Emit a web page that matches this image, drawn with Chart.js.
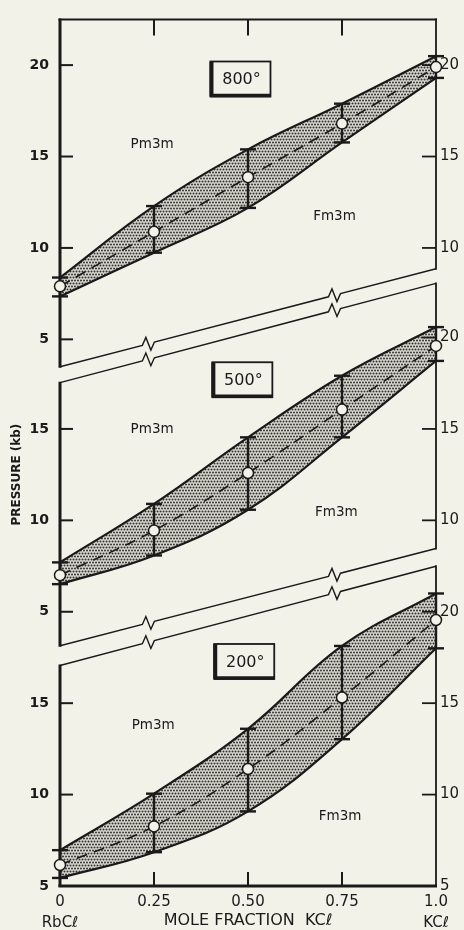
<!DOCTYPE html>
<html>
<head>
<meta charset="utf-8">
<script src="https://cdn.jsdelivr.net/npm/chart.js@4.4.1/dist/chart.umd.min.js"></script>
<style>
  html, body { margin: 0; padding: 0; background: #f3f2e8; }
  canvas { display: block; }
</style>
</head>
<body>
<canvas id="phaseChart" width="464" height="930"></canvas>
<script>
// mole fraction KCl and x tick labels
const xs = [0, 0.25, 0.5, 0.75, 1];
const xTickLabels = ['0', '0.25', '0.50', '0.75', '1.0'];

// 800 deg: transition pressure (kb), mean and error limits
const mid800 = [7.9, 10.88, 13.87, 16.8, 19.89];
const hi800 = [8.38, 12.29, 15.39, 17.89, 20.49];
const lo800 = [7.35, 9.74, 12.19, 15.77, 19.3];

// 500 deg
const mid500 = [7.0, 9.44, 12.59, 16.06, 19.54];
const hi500 = [7.7, 10.9, 14.54, 17.91, 20.57];
const lo500 = [6.51, 8.08, 10.58, 14.54, 18.72];

// 200 deg
const mid200 = [6.15, 8.26, 11.4, 15.31, 19.55];
const hi200 = [6.96, 10.05, 13.6, 18.13, 21.0];
const lo200 = [5.44, 6.85, 9.08, 13.03, 18.0];

// tick labels on the pressure axes
const leftTicks800 = [5, 10, 15, 20];
const leftTicks500 = [5, 10, 15];
const leftTicks200 = [5, 10, 15];
const rightTicks800 = [10, 15, 20];
const rightTicks500 = [10, 15, 20];
const rightTicks200 = [5, 10, 15, 20];

const INK = '#1a1a1a';
const PAPER = '#f3f2e8';
const FONT = '"DejaVu Sans", sans-serif';

// stippled fill for the two-phase band
function stipple() {
  const c = document.createElement('canvas');
  c.width = 6; c.height = 6;
  const g = c.getContext('2d');
  g.fillStyle = '#d9d8d0';
  g.fillRect(0, 0, 6, 6);
  g.fillStyle = '#333331';
  [[1.5, 1.5], [4.5, 1.5], [0, 4.5], [3, 4.5], [6, 4.5]].forEach(([x, y]) => {
    g.beginPath(); g.arc(x, y, 1.0, 0, Math.PI * 2); g.fill();
  });
  return g.createPattern(c, 'repeat');
}
const dots = stipple();

const pts = arr => xs.map((x, i) => ({ x: x, y: arr[i] }));

function panelSets(axis, hi, lo, mid, name) {
  return [
    { label: name + ' upper', data: pts(hi), yAxisID: axis, fill: '+1', backgroundColor: dots,
      borderColor: INK, borderWidth: 2.2, pointRadius: 0, tension: 0.4, order: 1 },
    { label: name + ' lower', data: pts(lo), yAxisID: axis, fill: false,
      borderColor: INK, borderWidth: 2.2, pointRadius: 0, tension: 0.4, order: 1 },
    { label: name, data: pts(mid), yAxisID: axis, fill: false, borderColor: INK, borderWidth: 1.6,
      borderDash: [11, 7], tension: 0.4, pointRadius: 5.5,
      pointBackgroundColor: PAPER, pointBorderColor: INK, pointBorderWidth: 1.5, clip: false, order: 0 }
  ];
}

// panel frames (edges in kb on each panel's own scale) and label spots
const panels = [
  { y: 'y800', r: 'r800', hi: hi800, lo: lo800, top: null, bottom: [3.5, 8.86],
    temp: '800°', box: [0.48, 19.24], pm: [0.245, 15.66], fm: [0.73, 11.7] },
  { y: 'y500', r: 'r500', hi: hi500, lo: lo500, top: [17.53, 22.96], bottom: [3.14, 8.46],
    temp: '500°', box: [0.485, 17.69], pm: [0.245, 14.98], fm: [0.735, 10.42] },
  { y: 'y200', r: 'r200', hi: hi200, lo: lo200, top: [17.06, 22.49], bottom: null,
    temp: '200°', box: [0.49, 17.28], pm: [0.248, 13.8], fm: [0.745, 8.81] }
];

function seg(ctx, x0, y0, x1, y1, w) {
  ctx.lineWidth = w;
  ctx.beginPath(); ctx.moveTo(x0, y0); ctx.lineTo(x1, y1); ctx.stroke();
}

function brokenLine(ctx, x0, y0, x1, y1, breaks) {
  const k = (y1 - y0) / (x1 - x0);
  ctx.lineWidth = 1.4;
  ctx.beginPath();
  ctx.moveTo(x0, y0);
  breaks.forEach(t => {
    const bx = x0 + (x1 - x0) * t, by = y0 + (y1 - y0) * t;
    ctx.lineTo(bx - 6, by - 6 * k);
    ctx.lineTo(bx - 2.5, by - 2.5 * k - 7);
    ctx.lineTo(bx + 2.5, by + 2.5 * k + 7);
    ctx.lineTo(bx + 6, by + 6 * k);
  });
  ctx.lineTo(x1, y1);
  ctx.stroke();
}

const framePlugin = {
  id: 'frame',
  // the three panels share one strip of labels on each side
  afterLayout(chart) {
    const s = chart.scales;
    ['y500', 'y200'].forEach(id => {
      s[id].left = s.y800.left; s[id].right = s.y800.right; s[id].width = s.y800.width;
    });
    ['r800', 'r500'].forEach(id => {
      s[id].left = s.r200.left; s[id].right = s.r200.right; s[id].width = s.r200.width;
    });
  },
  beforeDraw(chart) {
    const ctx = chart.ctx;
    ctx.save();
    ctx.fillStyle = PAPER;
    ctx.fillRect(0, 0, chart.width, chart.height);
    ctx.restore();
  },
  beforeDatasetsDraw(chart) {
    const { ctx, chartArea: a, scales } = chart;
    const X = scales.x;
    const L = X.getPixelForValue(0), R = X.getPixelForValue(1);
    ctx.save();
    ctx.strokeStyle = INK;
    seg(ctx, L - 1.5, a.top, R + 1, a.top, 2);
    seg(ctx, L - 1.5, a.bottom, R + 1, a.bottom, 3);
    X.ticks.forEach(t => {
      if (t.value <= 0 || t.value >= 1) return;
      const px = X.getPixelForValue(t.value);
      seg(ctx, px, a.top, px, a.top + 16, 2);
      seg(ctx, px, a.bottom - 14, px, a.bottom, 2);
    });
    panels.forEach(p => {
      const Y = scales[p.y], Yr = scales[p.r];
      const tl = p.top ? Y.getPixelForValue(p.top[0]) : a.top;
      const tr = p.top ? Y.getPixelForValue(p.top[1]) : a.top;
      const bl = p.bottom ? Y.getPixelForValue(p.bottom[0]) : a.bottom;
      const br = p.bottom ? Y.getPixelForValue(p.bottom[1]) : a.bottom;
      seg(ctx, L, tl - 1, L, bl + 1, 3);
      seg(ctx, R, tr - 1, R, br + 1, 1.8);
      if (p.top) brokenLine(ctx, L, tl, R, tr, [0.235, 0.73]);
      if (p.bottom) brokenLine(ctx, L, bl, R, br, [0.235, 0.73]);
      Y.ticks.forEach(t => {
        const py = Y.getPixelForValue(t.value);
        seg(ctx, L, py, L + 13, py, 2);
      });
      Yr.ticks.forEach(t => {
        const py = Yr.getPixelForValue(t.value);
        seg(ctx, R - 14, py, R, py, 1.8);
      });
      // error bars
      xs.forEach((x, i) => {
        const px = X.getPixelForValue(x);
        const yh = Y.getPixelForValue(p.hi[i]), yl = Y.getPixelForValue(p.lo[i]);
        seg(ctx, px, yh, px, yl, 2.4);
        seg(ctx, px - 8, yh, px + 8, yh, 2.4);
        seg(ctx, px - 8, yl, px + 8, yl, 2.4);
      });
    });
    ctx.restore();
  },
  afterDatasetsDraw(chart) {
    const { ctx, scales } = chart;
    const X = scales.x;
    ctx.save();
    ctx.fillStyle = INK;
    ctx.strokeStyle = INK;
    ctx.textAlign = 'center';
    ctx.textBaseline = 'middle';
    panels.forEach(p => {
      const Y = scales[p.y];
      ctx.font = '13.5px ' + FONT;
      ctx.fillText('Pm3m', X.getPixelForValue(p.pm[0]), Y.getPixelForValue(p.pm[1]));
      ctx.fillText('Fm3m', X.getPixelForValue(p.fm[0]), Y.getPixelForValue(p.fm[1]));
      const cx = X.getPixelForValue(p.box[0]), cy = Y.getPixelForValue(p.box[1]);
      const w = 60, h = 35;
      ctx.fillStyle = PAPER;
      ctx.fillRect(cx - w / 2, cy - h / 2, w, h);
      ctx.fillStyle = INK;
      ctx.lineWidth = 1.8;
      ctx.strokeRect(cx - w / 2, cy - h / 2, w, h);
      seg(ctx, cx - w / 2 + 1, cy - h / 2, cx - w / 2 + 1, cy + h / 2, 4);
      seg(ctx, cx - w / 2, cy + h / 2 - 1, cx + w / 2, cy + h / 2 - 1, 3.5);
      ctx.font = '16px ' + FONT;
      ctx.fillText(p.temp, cx + 1, cy + 1);
    });
    const Ym = scales.y500;
    ctx.translate(17, Ym.getPixelForValue(12.5));
    ctx.rotate(-Math.PI / 2);
    ctx.font = 'bold 12px ' + FONT;
    ctx.fillText('PRESSURE (kb)', 0, 0);
    ctx.restore();
  }
};

function fixTicks(list) {
  return s => { s.ticks = list.map(v => ({ value: v })); };
}
function fixWidth(w) {
  return s => { s.width = w; };
}

const RANGE = 47.4;
const leftFont = { family: FONT, size: 14, weight: 'bold' };
const rightFont = { family: FONT, size: 15 };

function yAxis(pos, max, ticks, w, weight, font, pad) {
  return {
    type: 'linear', position: pos, min: max - RANGE, max: max, weight: weight,
    afterBuildTicks: fixTicks(ticks), afterFit: fixWidth(w),
    grid: { display: false, drawTicks: false }, border: { display: false },
    ticks: { color: INK, font: font, padding: pad, autoSkip: false }
  };
}

const chart = new Chart(document.getElementById('phaseChart').getContext('2d'), {
  type: 'line',
  data: {
    datasets: [
      ...panelSets('y800', hi800, lo800, mid800, '800°'),
      ...panelSets('y500', hi500, lo500, mid500, '500°'),
      ...panelSets('y200', hi200, lo200, mid200, '200°')
    ]
  },
  options: {
    responsive: false,
    animation: false,
    devicePixelRatio: 1,
    layout: { padding: { left: 2, top: 14, right: 0, bottom: 0 } },
    plugins: {
      legend: { display: false },
      tooltip: { enabled: false },
      filler: { drawTime: 'beforeDatasetsDraw' }
    },
    scales: {
      x: {
        type: 'linear', min: 0, max: 1,
        afterBuildTicks: fixTicks(xs),
        afterFit: s => { s.height = 44; },
        grid: { display: false, drawTicks: false }, border: { display: false },
        ticks: {
          color: INK, padding: 6, maxRotation: 0, autoSkip: false,
          font: { family: FONT, size: 15, lineHeight: 1.4 },
          callback: (v, i) => i === 0 ? [xTickLabels[i], 'RbCℓ'] : i === xs.length - 1 ? [xTickLabels[i], 'KCℓ'] : xTickLabels[i]
        },
        title: { display: true, text: 'MOLE FRACTION  KCℓ', color: INK, padding: 0,
                 font: { family: FONT, size: 16 } }
      },
      y800: yAxis('left', 22.5, leftTicks800, 58, 2, leftFont, 11),
      y500: yAxis('left', 37.4, leftTicks500, 0, 1, leftFont, 11),
      y200: yAxis('left', 52.4, leftTicks200, 0, 0, leftFont, 11),
      r800: yAxis('right', 22.5, rightTicks800, 0, 0, rightFont, 4),
      r500: yAxis('right', 37.4, rightTicks500, 0, 1, rightFont, 4),
      r200: yAxis('right', 52.4, rightTicks200, 28, 2, rightFont, 4)
    }
  },
  plugins: [framePlugin]
});
</script>
</body>
</html>
